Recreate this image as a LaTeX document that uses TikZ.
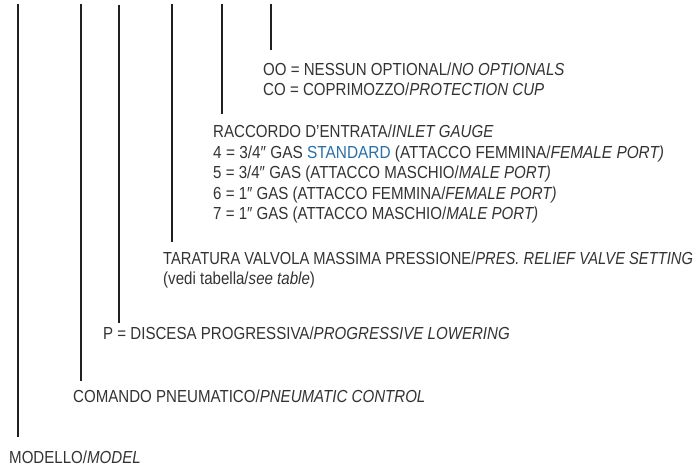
\documentclass[tikz,border=0pt]{standalone}
\usepackage{fontspec}
\setmainfont{Liberation Sans}[FakeStretch=0.865]
\definecolor{txt}{HTML}{333333}
\definecolor{bar}{HTML}{231F20}
\definecolor{stdblue}{HTML}{2B6FA8}
\begin{document}
\begin{tikzpicture}[x=1bp,y=-1bp,
  lbl/.style={anchor=base west,inner sep=0pt,text=txt,font=\fontsize{17.5}{20}\selectfont},
  barline/.style={draw=bar,line width=2.6bp}]
\useasboundingbox (0,0) rectangle (698,466);
% coordinates for bar ends
\coordinate (t1) at (18,4);   \coordinate (b1) at (18,437);
\coordinate (t2) at (81,4);   \coordinate (b2) at (81,381);
\coordinate (t3) at (119,5);  \coordinate (b3) at (119,323);
\coordinate (t4) at (172,4);  \coordinate (b4) at (172,242);
\coordinate (t5) at (222,4);  \coordinate (b5) at (222,114);
\coordinate (t6) at (271,4);  \coordinate (b6) at (271,50);
\draw[barline] (t1) -- (b1);
\draw[barline] (t2) -- (b2);
\draw[barline] (t3) -- (b3);
\draw[barline] (t4) -- (b4);
\draw[barline] (t5) -- (b5);
\draw[barline] (t6) -- (b6);
% texts
\node[lbl] (oo) at (263,76) {OO = NESSUN OPTIONAL/\textit{NO OPTIONALS}};
\node[lbl] (co) at (263,96) {CO = COPRIMOZZO/\textit{PROTECTION CUP}};
\node[lbl] (rac) at (213,138) {RACCORDO D’ENTRATA/\textit{INLET GAUGE}};
\node[lbl] (r4) at (213,158.5) {\scalebox{1.02}[1]{4 = 3/4″ GAS \textcolor{stdblue}{STANDARD} (ATTACCO FEMMINA/\textit{FEMALE PORT)}}};
\node[lbl] (r5) at (213,179) {5 = 3/4″ GAS (ATTACCO MASCHIO/\textit{MALE PORT)}};
\node[lbl] (r6) at (213,199.5) {6 = 1″ GAS (ATTACCO FEMMINA/\textit{FEMALE PORT)}};
\node[lbl] (r7) at (213,220) {7 = 1″ GAS (ATTACCO MASCHIO/\textit{MALE PORT)}};
\node[lbl] (tar) at (163,265) {\scalebox{0.976}[1]{TARATURA VALVOLA MASSIMA PRESSIONE/\textit{PRES. RELIEF VALVE SETTING}}};
\node[lbl] (ved) at (163,285) {(vedi tabella/\textit{see table})};
\node[lbl] (pp) at (103,340) {P = DISCESA PROGRESSIVA/\textit{PROGRESSIVE LOWERING}};
\node[lbl] (com) at (73,402) {COMANDO PNEUMATICO/\textit{PNEUMATIC CONTROL}};
\node[lbl] (mod) at (9,463) {MODELLO/\textit{MODEL}};
\end{tikzpicture}
\end{document}
